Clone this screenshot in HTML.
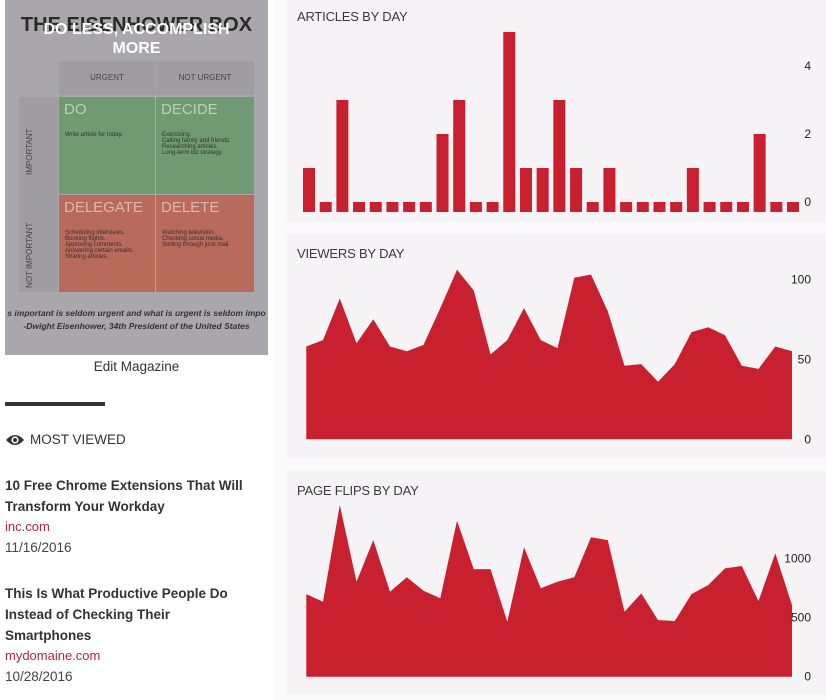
<!DOCTYPE html>
<html><head><meta charset="utf-8">
<style>
body{margin:0;width:826px;height:700px;overflow:hidden;background:#fff;font-family:"Liberation Sans",sans-serif;position:relative}
.abs{position:absolute}
.panel{position:absolute;left:287px;width:539px;background:#f5f3f6}
.ttl{position:absolute;left:10px;font-size:13px;color:#3a3a3a;letter-spacing:-0.2px}
.art{position:absolute;left:5px;font-size:13.5px;font-weight:bold;color:#333;line-height:21px}
.src{position:absolute;left:5px;font-size:13px;color:#b0283a}
.dt{position:absolute;left:5px;font-size:13.5px;color:#444}
</style></head><body>
<div class="abs" style="left:274px;top:0;width:552px;height:700px;background:#fafafa"></div>

<div class="abs" style="left:5px;top:0;width:263px;height:355px;background:#a9a7ab;overflow:hidden">
  <div class="abs" style="left:0;top:14px;width:263px;text-align:center;font-size:20px;font-weight:bold;color:#2a2a2a;white-space:nowrap">THE EISENHOWER BOX</div>
  <div class="abs" style="left:0;top:20px;width:263px;text-align:center;font-size:16px;font-weight:bold;color:#fff;line-height:19px">DO LESS, ACCOMPLISH<br>MORE</div>
  <div class="abs" style="left:54px;top:61px;width:96px;height:34px;background:#9f9da2;color:#444;font-size:8px;text-align:center;line-height:34px">URGENT</div>
  <div class="abs" style="left:151px;top:61px;width:98px;height:34px;background:#9f9da2;color:#444;font-size:8px;text-align:center;line-height:34px">NOT URGENT</div>
  <div class="abs" style="left:14px;top:97px;width:39px;height:195px;background:#9f9da2"></div>
  <div class="abs" style="left:20px;top:175px;transform:rotate(-90deg);transform-origin:left top;font-size:8px;color:#444">IMPORTANT</div>
  <div class="abs" style="left:20px;top:288px;transform:rotate(-90deg);transform-origin:left top;font-size:8px;color:#444">NOT IMPORTANT</div>
  <div class="abs" style="left:54px;top:97px;width:96px;height:97px;background:#6f9a72;color:#333;font-size:6px;padding:0"><div style="font-size:15px;color:#b9d0b9;margin:4px 0 0 5px">DO</div><div style="margin:14px 0 0 6px">Write article for today.</div></div>
  <div class="abs" style="left:151px;top:97px;width:98px;height:97px;background:#6f9a72;color:#333;font-size:6px"><div style="font-size:15px;color:#b9d0b9;margin:4px 0 0 5px">DECIDE</div><div style="margin:14px 0 0 6px">Exercising.<br>Calling family and friends.<br>Researching articles.<br>Long-term biz strategy.</div></div>
  <div class="abs" style="left:54px;top:195px;width:96px;height:97px;background:#b86a5b;color:#333;font-size:6px"><div style="font-size:15px;color:#e0b5aa;margin:4px 0 0 5px">DELEGATE</div><div style="margin:14px 0 0 6px">Scheduling interviews.<br>Booking flights.<br>Approving comments.<br>Answering certain emails.<br>Sharing articles.</div></div>
  <div class="abs" style="left:151px;top:195px;width:98px;height:97px;background:#b86a5b;color:#333;font-size:6px"><div style="font-size:15px;color:#e0b5aa;margin:4px 0 0 5px">DELETE</div><div style="margin:14px 0 0 6px">Watching television.<br>Checking social media.<br>Sorting through junk mail.</div></div>
  <div class="abs" style="left:-10px;top:307px;width:283px;text-align:center;font-size:8.5px;font-style:italic;font-weight:bold;color:#333;white-space:nowrap;line-height:13px">s important is seldom urgent and what is urgent is seldom impo<br>-Dwight Eisenhower, 34th President of the United States</div>
</div>
<div class="abs" style="left:5px;top:359px;width:263px;text-align:center;font-size:13.5px;color:#333">Edit Magazine</div>
<div class="abs" style="left:5px;top:402px;width:100px;height:4px;background:#333"></div>
<svg class="abs" style="left:5px;top:433px" width="20" height="14" viewBox="0 0 20 14"><path d="M1 7 Q10 -3 19 7 Q10 17 1 7Z" fill="#333"/><circle cx="10" cy="7" r="3.6" fill="#fff"/><circle cx="10" cy="7" r="2" fill="#333"/></svg>
<div class="abs" style="left:30px;top:432px;font-size:13.5px;color:#333">MOST VIEWED</div>
<div class="art" style="top:475px">10 Free Chrome Extensions That Will<br>Transform Your Workday</div>
<div class="src" style="top:519px">inc.com</div>
<div class="dt" style="top:540px">11/16/2016</div>
<div class="art" style="top:583px">This Is What Productive People Do<br>Instead of Checking Their<br>Smartphones</div>
<div class="src" style="top:648px">mydomaine.com</div>
<div class="dt" style="top:669px">10/28/2016</div>

<div class="panel" style="top:0;height:222px"><div class="ttl" style="top:9px">ARTICLES BY DAY</div></div>
<div class="panel" style="top:234px;height:224px"><div class="ttl" style="top:12px">VIEWERS BY DAY</div></div>
<div class="panel" style="top:471px;height:224px"><div class="ttl" style="top:12px">PAGE FLIPS BY DAY</div></div>

<svg id="charts" class="abs" style="left:0;top:0" width="826" height="700"></svg>
<script>
const articleValues=[1,0,3,0,0,0,0,0,2,3,0,0,5,1,1,3,1,0,1,0,0,0,0,1,0,0,0,2,0,0];
const articleTicks=[0,2,4];
const viewerValues=[58,62,88,60,75,58,55,59,82,106,93,53,62,82,62,57,101,103,80,46,47,36,47,67,70,65,46,44,58,55];
const viewerTicks=[0,50,100];
const flipValues=[700,636,1455,805,1158,720,842,729,664,1322,910,912,466,1096,749,805,842,1181,1158,551,706,480,472,700,777,918,938,641,1045,607];
const flipTicks=[0,500,1000];

const NS="http://www.w3.org/2000/svg";
const svg=document.getElementById('charts');
function mk(tag,attrs){const e=document.createElementNS(NS,tag);for(const k in attrs)e.setAttribute(k,attrs[k]);svg.appendChild(e);return e;}
function tickLabel(txt,x,y){const t=mk('text',{x:x,y:y+4,'text-anchor':'end','font-size':'12','fill':'#222','font-family':'Liberation Sans, sans-serif'});t.textContent=txt;return t;}

const aY=v=>202-34*v, aX=i=>303+i*16.69;
articleValues.forEach((v,i)=>{
  const top=aY(v);
  const r=mk('rect',{x:aX(i),y:top,width:12,height:212-top,fill:'#c8202f'});
  
  
});
articleTicks.forEach(t=>{const l=tickLabel(String(t),811,aY(t));
  
  });

function area(vals,ticks,y0,yPerUnit,name,tickName){
  const x=i=>306.3+i*(792-306.3)/(vals.length-1);
  const y=v=>y0-v*yPerUnit;
  let d='M'+x(0)+','+y0;
  vals.forEach((v,i)=>{d+=' L'+x(i).toFixed(1)+','+y(v).toFixed(1);});
  d+=' L'+x(vals.length-1)+','+y0+' Z';
  const p=mk('path',{d:d,fill:'#c8202f'});
  
  
  ticks.forEach(t=>{const l=tickLabel(String(t),811,y(t));
    
    });
}
area(viewerValues,viewerTicks,439.3,1.6,'viewers-area','viewers-tick-label');
area(flipValues,flipTicks,676.7,0.118,'flips-area','flips-tick-label');
</script>
</body></html>
